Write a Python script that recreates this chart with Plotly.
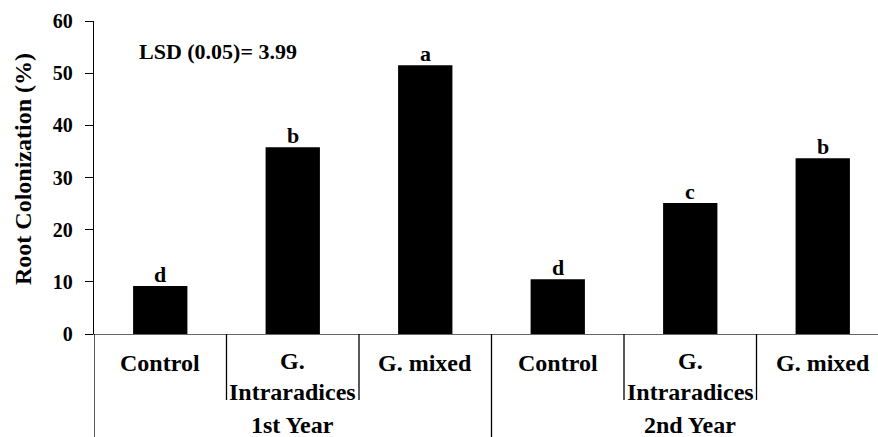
import plotly.graph_objects as go

treatments = ["Control", "G.<br>Intraradices", "G. mixed", "Control", "G.<br>Intraradices", "G. mixed"]
years = ["1st Year", "2nd Year"]
colonization = [9.2, 35.8, 51.5, 10.5, 25.1, 33.7]
letters = ["d", "b", "a", "d", "c", "b"]
lsd_text = "LSD (0.05)= 3.99"
y_ticks = [0, 10, 20, 30, 40, 50, 60]

W, H = 878, 437
ML, MR, MT, MB = 94, 0, 21, 103
plot_h = H - MT - MB
per_year = len(treatments) // len(years)
xmax = -0.5 + (W - ML) / 132.5

FONT = "Liberation Serif"

def py(pix):
    return (H - MB - pix) / plot_h

xs = list(range(len(treatments)))

fig = go.Figure()
fig.add_trace(go.Bar(
    x=xs, y=colonization, width=0.41,
    marker=dict(color="black", line=dict(width=0)),
    showlegend=False, hoverinfo="skip",
))

for x, v, l in zip(xs, colonization, letters):
    fig.add_annotation(x=x, y=v, text="<b>%s</b>" % l, showarrow=False, yanchor="bottom",
                       yshift=-3, font=dict(family=FONT, size=22, color="black"))

for x, t in zip(xs, treatments):
    nlines = t.count("<br>") + 1
    cy = 363 if nlines == 1 else 376
    fig.add_annotation(x=x, xref="x", y=py(cy), yref="paper", text="<b>%s</b>" % t, showarrow=False,
                       yanchor="middle", font=dict(family=FONT, size=24, color="black"))

for i, yr in enumerate(years):
    cx = (i * per_year - 0.5 + (i + 1) * per_year - 0.5) / 2
    fig.add_annotation(x=cx, xref="x", y=py(425), yref="paper", text="<b>%s</b>" % yr, showarrow=False,
                       yanchor="middle", font=dict(family=FONT, size=24, color="black"))

# separators
for b in range(len(treatments)):
    xb = b - 0.5
    bottom = py(H) if b % per_year == 0 else py(400)
    fig.add_shape(type="line", xref="x", yref="paper", x0=xb, x1=xb, y0=0, y1=bottom,
                  line=dict(color="black", width=1.3))

fig.add_annotation(x=-0.5 + (137 - ML) / 132.5, xref="x", y=py(51), yref="paper", text="<b>%s</b>" % lsd_text,
                   showarrow=False, xanchor="left", yanchor="middle",
                   font=dict(family=FONT, size=22, color="black"))

fig.add_annotation(x=(23 - ML) / (W - ML - MR), xref="paper", y=py(169), yref="paper",
                   text="<b>Root Colonization (%)</b>", textangle=-90, showarrow=False,
                   xanchor="center", yanchor="middle",
                   font=dict(family=FONT, size=24, color="black"))

fig.update_layout(
    width=W, height=H,
    margin=dict(l=ML, r=MR, t=MT, b=MB),
    paper_bgcolor="white", plot_bgcolor="white",
    xaxis=dict(range=[-0.5, xmax], showticklabels=False, ticks="", showgrid=False,
               zeroline=False, showline=True, linecolor="#666666", linewidth=1.3, fixedrange=True),
    yaxis=dict(range=[0, 60], tickvals=y_ticks, ticktext=["<b>%d</b>" % v for v in y_ticks],
               ticks="outside", ticklen=8, tickcolor="black",
               showgrid=False, zeroline=False, showline=True, linecolor="black", linewidth=1.3,
               ticklabelstandoff=8,
               tickfont=dict(family=FONT, size=20, color="black")),
)

fig.write_html("out.html", config={"displayModeBar": False},
               post_script="document.body.style.margin='0';document.body.style.padding='0';")
